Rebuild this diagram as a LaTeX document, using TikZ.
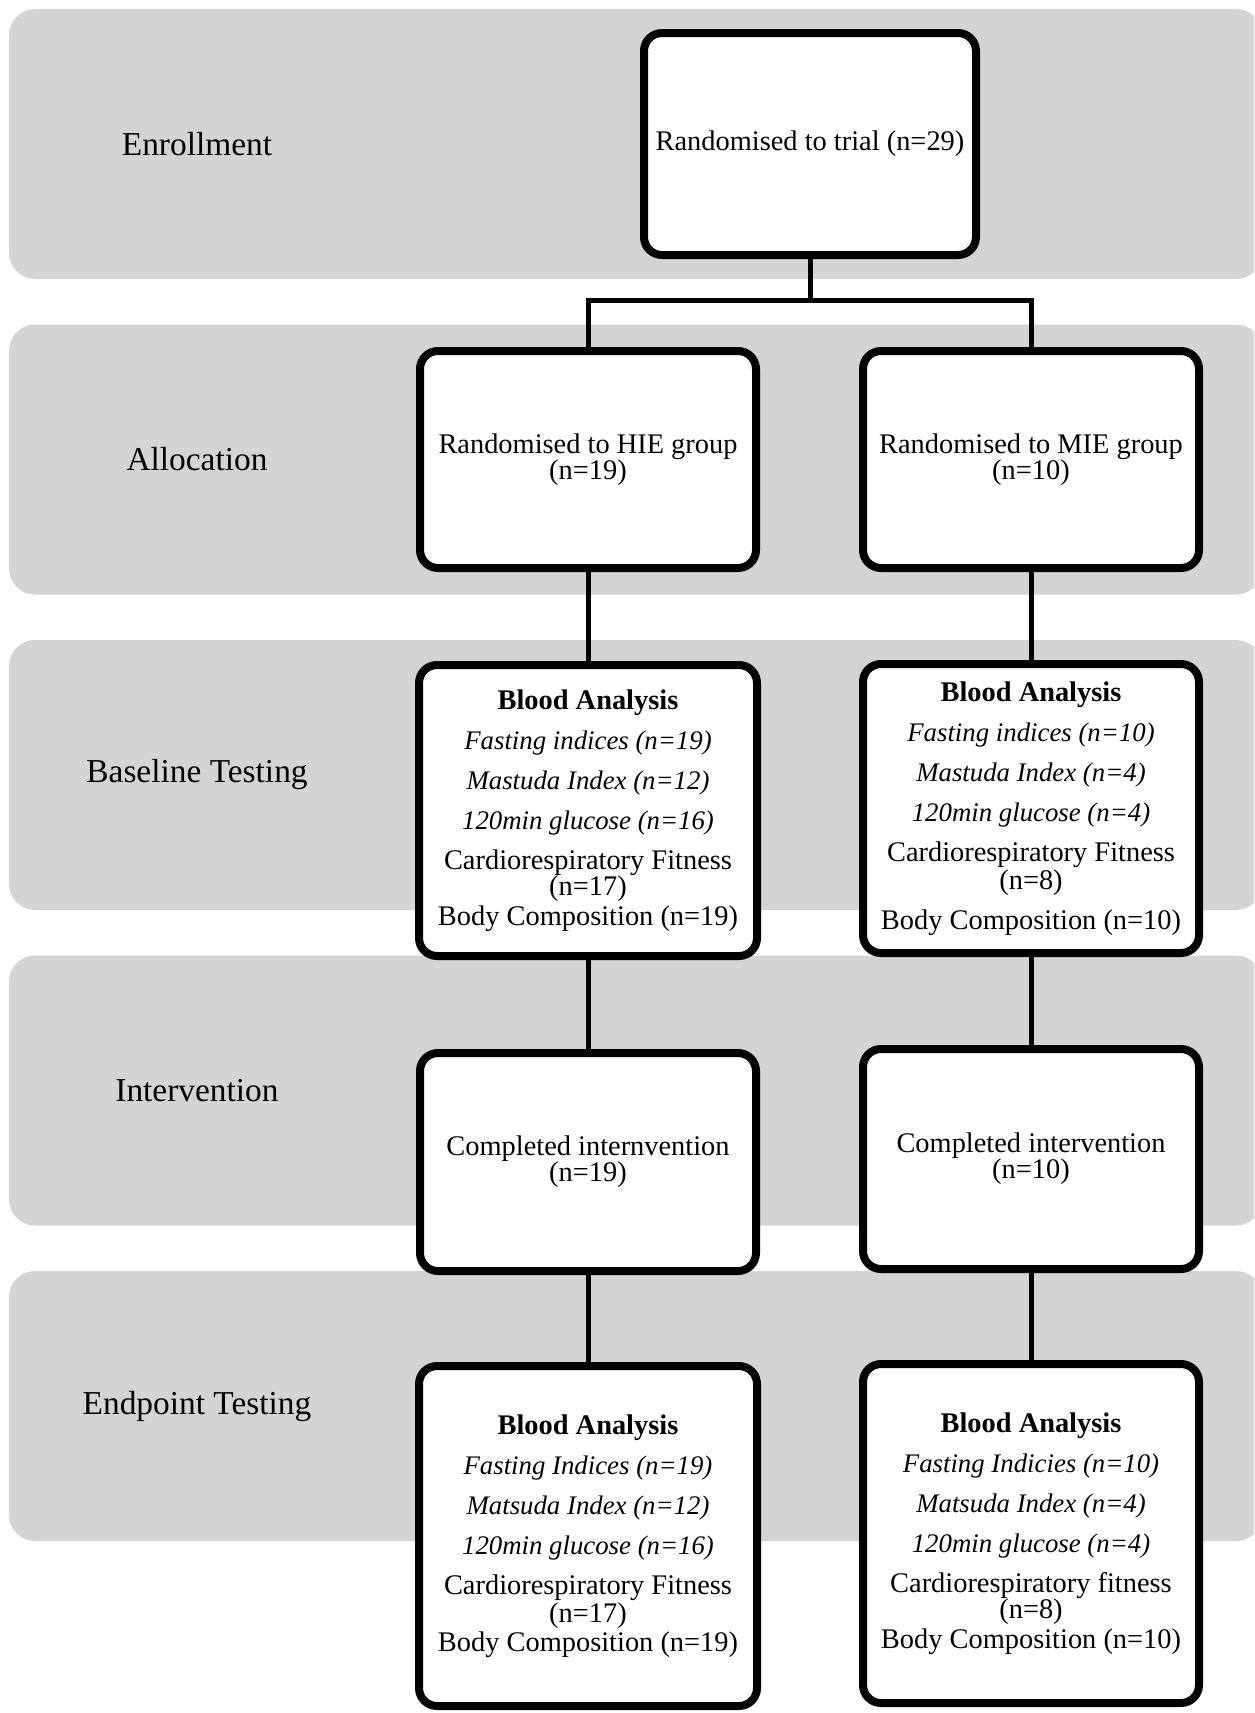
\documentclass[tikz,border=0pt]{standalone}
\usepackage{fontspec}
\setmainfont{Liberation Serif}
\usetikzlibrary{positioning,shadows}
\definecolor{bandgray}{RGB}{212,212,212}
\newcommand{\itline}[1]{{\fontsize{13.4}{13}\selectfont\itshape #1}}
\tikzset{
  band/.style={fill=bandgray, rounded corners=13pt},
  stage/.style={font=\fontsize{16.7}{19}\selectfont},
  flowbox/.style={draw, line width=4pt, rounded corners=9pt, fill=white, align=center,
    inner sep=0pt, minimum width=168pt, font=\fontsize{14.2}{13}\selectfont,
    drop shadow={shadow xshift=1pt, shadow yshift=-1.5pt, opacity=0.25}},
  link/.style={line width=2.5pt}
}

\begin{document}
\begin{tikzpicture}[x=0.5pt, y=-0.5pt]
    \useasboundingbox (0,0) rectangle (1254,1713);
    \clip (0,0) rectangle (1254,1713);

    % Stage bands
    \foreach \t/\name [count=\i] in {9/Enrollment, 324.5/Allocation, 640/Baseline Testing, 955.5/Intervention, 1271/Endpoint Testing}{
        \fill[band] (9,\t) rectangle (1262,\t+270);
        \node[stage] (stage\i) at (197,\t+135) {\name};
    }

    % Enrollment
    \node[flowbox, minimum width=166pt, minimum height=111pt] (trial) at (810,144) {Randomised to trial (n=29)};

    % Allocation
    \node[flowbox, minimum height=108.5pt] (hie) at (588,459.5) {Randomised to HIE group\\(n=19)};
    \node[flowbox, minimum height=108.5pt] (mie) at (1031,459.5) {Randomised to MIE group\\(n=10)};

    % Baseline testing
    \node[flowbox, minimum width=169pt, minimum height=145.5pt] (hiebase) at (588,810.5) {\textbf{Blood Analysis}\\[7pt]
        \itline{Fasting indices (n=19)}\\[7pt]
        \itline{Mastuda Index (n=12)}\\[7pt]
        \itline{120min glucose (n=16)}\\[7pt]
        Cardiorespiratory Fitness\\(n=17)\\[2pt]
        Body Composition (n=19)};
    \node[flowbox, minimum height=144.5pt] (miebase) at (1031,808.5) {\textbf{Blood Analysis}\\[7pt]
        \itline{Fasting indices (n=10)}\\[7pt]
        \itline{Mastuda Index (n=4)}\\[7pt]
        \itline{120min glucose (n=4)}\\[7pt]
        Cardiorespiratory Fitness\\[1pt](n=8)\\[7pt]
        Body Composition (n=10)};

    % Intervention
    \node[flowbox, minimum height=109pt] (hieint) at (588,1162) {Completed internvention\\(n=19)};
    \node[flowbox, minimum height=110pt] (mieint) at (1031,1159) {Completed intervention\\(n=10)};

    % Endpoint testing
    \node[flowbox, minimum width=169pt, minimum height=170pt] (hieend) at (588,1536) {\textbf{Blood Analysis}\\[7pt]
        \itline{Fasting Indices (n=19)}\\[7pt]
        \itline{Matsuda Index (n=12)}\\[7pt]
        \itline{120min glucose (n=16)}\\[7pt]
        Cardiorespiratory Fitness\\[1pt](n=17)\\[1.5pt]
        Body Composition (n=19)};
    \node[flowbox, minimum height=169.5pt] (mieend) at (1031,1533.5) {\textbf{Blood Analysis}\\[7pt]
        \itline{Fasting Indicies (n=10)}\\[7pt]
        \itline{Matsuda Index (n=4)}\\[7pt]
        \itline{120min glucose (n=4)}\\[7pt]
        Cardiorespiratory fitness\\(n=8)\\[2pt]
        Body Composition (n=10)};

    % Connectors
    \coordinate (split) at (810,300);
    \draw[link] (trial.south) -- (split);
    \draw[link] (hie.north) |- (split) -| (mie.north);
    \draw[link] (hie.south) -- (hiebase.north);
    \draw[link] (hiebase.south) -- (hieint.north);
    \draw[link] (hieint.south) -- (hieend.north);
    \draw[link] (mie.south) -- (miebase.north);
    \draw[link] (miebase.south) -- (mieint.north);
    \draw[link] (mieint.south) -- (mieend.north);
\end{tikzpicture}
\end{document}
